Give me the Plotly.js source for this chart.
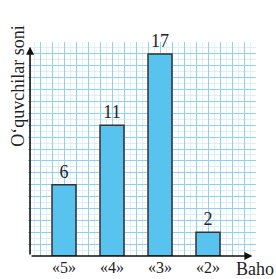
<!DOCTYPE html>
<html>
<head>
<meta charset="utf-8">
<script src="https://cdn.plot.ly/plotly-3.0.1.min.js"></script>
<style>html,body{margin:0;padding:0;background:#fff;}#chart{width:276px;height:279px;}</style>
</head>
<body>
<div id="chart"></div>
<script>
// Data
var categories = ['«5»', '«4»', '«3»', '«2»'];
var counts = [6, 11, 17, 2];
var yTitle = 'O‘quvchilar soni';
var xTitle = 'Baho';

var serif = '"Liberation Serif", "DejaVu Serif", serif';

var traces = [
  {
    type: 'bar',
    x: categories,
    y: counts,
    width: 0.5,
    marker: {color: '#58c3ef', line: {color: '#333333', width: 1.5}},
    text: counts.map(String),
    textposition: 'outside',
    textfont: {family: serif, size: 18, color: '#222'},
    cliponaxis: false,
    hoverinfo: 'skip'
  },
  {
    type: 'scatter', x: [], y: [], xaxis: 'x2', yaxis: 'y',
    hoverinfo: 'skip', showlegend: false
  }
];

var layout = {
  width: 276, height: 279,
  margin: {l: 28, r: 20, t: 42, b: 23},
  paper_bgcolor: '#fff', plot_bgcolor: '#fff',
  showlegend: false,
  xaxis: {
    type: 'category', range: [-0.75, 4.0],
    showgrid: false, zeroline: false, showline: false, ticks: '',
    tickfont: {family: serif, size: 16, color: '#222'},
    fixedrange: true
  },
  xaxis2: {
    overlaying: 'x', anchor: 'y', range: [0, 19], dtick: 1,
    showgrid: true, gridcolor: '#8fd1ee', gridwidth: 1,
    minor: {dtick: 0.5, showgrid: true, gridcolor: '#dcf0f9', gridwidth: 1},
    showticklabels: false, ticks: '', zeroline: false, showline: false
  },
  yaxis: {
    range: [0, 18], dtick: 1,
    showgrid: true, gridcolor: '#8fd1ee', gridwidth: 1,
    minor: {dtick: 0.5, showgrid: true, gridcolor: '#dcf0f9', gridwidth: 1},
    showticklabels: false, ticks: '', zeroline: false, showline: false
  },
  annotations: [
    {xref: 'x2', yref: 'y', axref: 'x2', ayref: 'y', x: 0.17, y: 17.6, ax: 0.17, ay: 0,
     text: '', showarrow: true, arrowhead: 2, arrowsize: 1, arrowwidth: 1.6, arrowcolor: '#111'},
    {xref: 'x2', yref: 'y', axref: 'x2', ayref: 'y', x: 18.7, y: 0, ax: 0.17, ay: 0,
     text: '', showarrow: true, arrowhead: 2, arrowsize: 1, arrowwidth: 1.6, arrowcolor: '#111'},
    {xref: 'paper', yref: 'paper', x: (234 - 28) / 228, y: -(269 - 256) / 215,
     xanchor: 'left', yanchor: 'middle', text: xTitle, showarrow: false,
     font: {family: serif, size: 18, color: '#222'}},
    {xref: 'paper', yref: 'paper', x: (18 - 28) / 228, y: (256 - 86) / 215,
     xanchor: 'center', yanchor: 'middle', textangle: -90, text: yTitle, showarrow: false,
     font: {family: serif, size: 18, color: '#222'}}
  ]
};

Plotly.newPlot('chart', traces, layout, {staticPlot: true, displayModeBar: false});
</script>
</body>
</html>
